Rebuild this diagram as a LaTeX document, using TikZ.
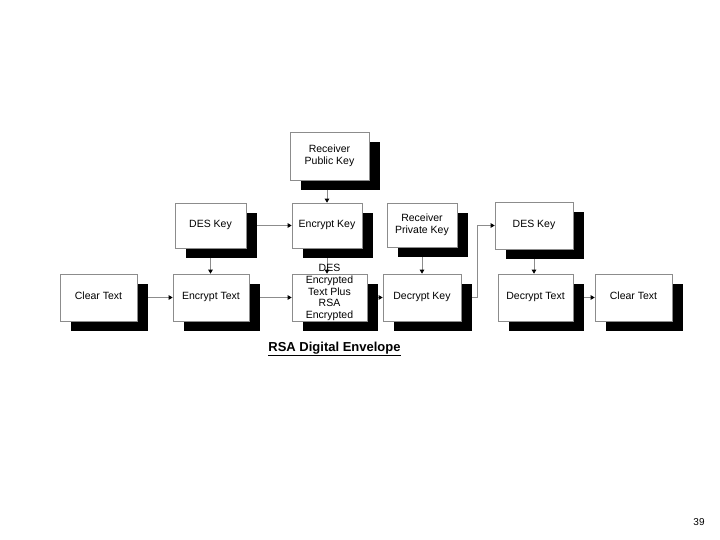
\documentclass[tikz,border=0pt]{standalone}
\usepackage{fontspec}
\setmainfont{Liberation Sans}
\usetikzlibrary{arrows.meta,calc}
\tikzset{
  box/.style={draw=black!45, line width=0.6pt, fill=white, align=center, inner sep=1pt,
    font=\fontsize{10.5}{12}\selectfont},
  shadowbox/.style={fill=black, draw=none, inner sep=0pt},
  conn/.style={draw=black!45, line width=0.8pt, -{Triangle[black,length=4pt,width=4.5pt]}},
}
\newcommand{\shbox}[6]{% name, cx, cy, w, h, text
  \node[shadowbox, minimum width=#4pt, minimum height=#5pt] (#1-s) at (#2+11,#3+10) {};
  \node[box, minimum width=#4pt, minimum height=#5pt] (#1) at (#2,#3) {#6};
}
\begin{document}
\begin{tikzpicture}[x=1pt,y=-1pt]
\useasboundingbox (0,0) rectangle (720,540);
\shbox{rpk}{329.5}{156}{79}{48}{Receiver\\Public Key}
\shbox{desk1}{210.5}{225.5}{71}{45}{\strut DES Key}
\shbox{enck}{327}{225.5}{70}{45}{\strut Encrypt Key}
\shbox{rprk}{422}{225}{70}{44}{Receiver\\Private Key}
\shbox{desk2}{534}{225.5}{78}{47}{\strut DES Key}
\shbox{clear1}{98.5}{297.5}{77}{47}{\strut Clear Text}
\shbox{enct}{211}{297.5}{76}{47}{\strut Encrypt Text}
\shbox{desenc}{329.5}{297.5}{75}{47}{}
\shbox{deck}{422}{297.5}{78}{47}{\strut Decrypt Key}
\shbox{dect}{535.5}{297.5}{75}{47}{\strut Decrypt Text}
\shbox{clear2}{633.5}{297.5}{77}{47}{\strut Clear Text}
% connectors
\draw[conn] (clear1-s.east |- clear1.east) -- (enct.west);
\draw[conn] (enct-s.east |- enct.east) -- (desenc.west);
\draw[conn] (desenc-s.east |- desenc.east) -- (deck.west);
\draw[conn] (dect-s.east |- dect.east) -- (clear2.west);
\draw[conn] (desk1-s.east |- desk1.east) -- (enck.west);
\draw[conn] (desk1.south |- desk1-s.south) -- (desk1.south |- enct.north);
\draw[conn] (enck.south |- enck-s.south) -- (enck.south |- desenc.north);
\draw[conn] (enck.north |- rpk-s.south) -- (enck.north);
\draw[conn] (rprk.south |- rprk-s.south) -- (rprk.south |- deck.north);
\draw[conn] (desk2.south |- desk2-s.south) -- (desk2.south |- dect.north);
\coordinate (bend) at ($(deck-s.east |- deck.east)+(5,0)$);
\draw[conn] (deck-s.east |- deck.east) -- (bend) |- (desk2.west);
% overflowing text of the middle box
\node[align=center, font=\fontsize{10.5}{11.8}\selectfont, inner sep=0pt] (desenctext) at ($(desenc.center)+(0,-5)$) {DES\\Encrypted\\Text Plus\\RSA\\Encrypted};
% title and page number
\node[font=\fontsize{13}{15}\selectfont\bfseries, inner sep=0pt] (title) at (334.5,349) {\underline{RSA Digital Envelope}};
\node[font=\fontsize{10}{11}\selectfont, inner sep=0pt] (pnum) at (699,522) {39};
\end{tikzpicture}
\end{document}
